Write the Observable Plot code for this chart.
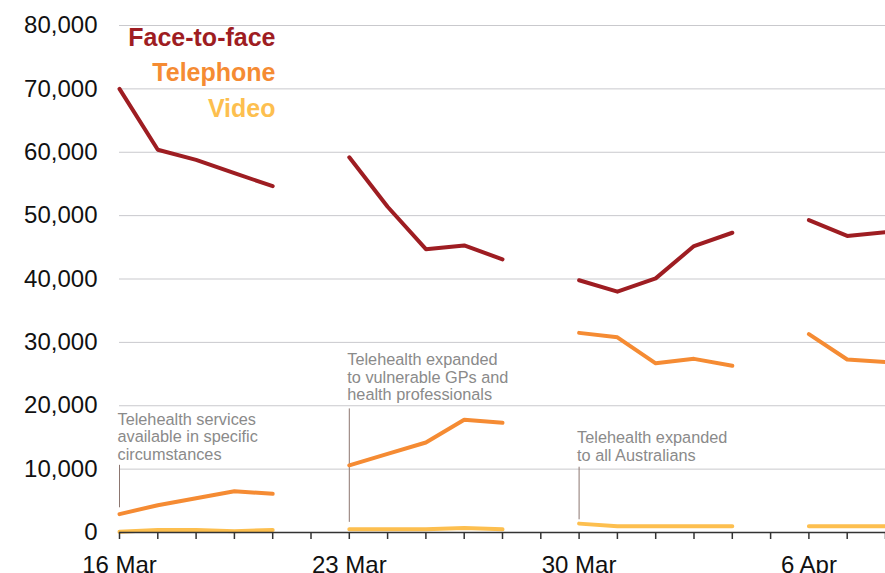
<!DOCTYPE html>
<html>
<head>
<meta charset="utf-8">
<script src="https://cdn.jsdelivr.net/npm/d3@7"></script>
<script src="https://cdn.jsdelivr.net/npm/@observablehq/plot@0.6"></script>
<style>
  html, body { margin: 0; padding: 0; background: #fff; overflow: hidden; }
</style>
</head>
<body>
<div id="chart"></div>
<script>
// Day slots (weekends collapsed into a single empty slot)
const slots = ["16 Mar","17 Mar","18 Mar","19 Mar","20 Mar","21–22 Mar",
  "23 Mar","24 Mar","25 Mar","26 Mar","27 Mar","28–29 Mar",
  "30 Mar","31 Mar","1 Apr","2 Apr","3 Apr","4–5 Apr",
  "6 Apr","7 Apr","8 Apr"];
const tickLabels = ["16 Mar","23 Mar","30 Mar","6 Apr"];
const yTicks = [0,10000,20000,30000,40000,50000,60000,70000,80000];

const seriesNames = ["Face-to-face","Telephone","Video"];
const seriesColors = ["#9e1d22","#f58b33","#fdbf4f"];

const faceToFace = [70000,60400,58800,56700,54650,null,59200,51400,44700,45300,43100,null,39800,38000,40100,45200,47300,null,49300,46800,47400];
const telephone  = [2900,4300,5400,6500,6100,null,10600,12400,14200,17800,17300,null,31500,30800,26700,27400,26300,null,31300,27300,26900];
const video      = [100,400,400,200,400,null,500,500,500,700,500,null,1400,1000,1000,1000,1000,null,1000,1000,1000];

const noteDates = ["16 Mar","23 Mar","30 Mar"];
const noteTexts = [
  "Telehealth services\navailable in specific\ncircumstances",
  "Telehealth expanded\nto vulnerable GPs and\nhealth professionals",
  "Telehealth expanded\nto all Australians"
];
const noteTextTop = [19000, 28450, 16150];
const noteRuleTop = [10600, 19500, 10300];
const noteRuleBottom = [3900, 1600, 2000];

const seriesValues = [faceToFace, telephone, video];
const rows = [];
seriesNames.forEach((s, k) => {
  slots.forEach((d, i) => rows.push({series: s, date: d, value: seriesValues[k][i]}));
});
const notes = noteDates.map((d, i) => ({date: d, text: noteTexts[i], top: noteTextTop[i], r1: noteRuleTop[i], r2: noteRuleBottom[i]}));
const legend = seriesNames.map((s, i) => ({name: s, color: seriesColors[i], i}));

const chart = Plot.plot({
  width: 885,
  height: 573,
  marginLeft: 119,
  marginRight: 0,
  marginTop: 25,
  marginBottom: 41,
  style: {fontFamily: "'Liberation Sans', Arial, sans-serif", background: "#fff", overflow: "visible"},
  x: {type: "point", domain: slots, padding: 0, round: false},
  y: {domain: [0, 80000]},
  color: {domain: seriesNames, range: seriesColors},
  marks: [
    Plot.gridY(yTicks.filter(d => d > 0), {stroke: "#c9c9cd", strokeOpacity: 1, strokeWidth: 1}),
    Plot.axisY(yTicks, {tickSize: 0, tickPadding: 22, fontSize: 24, fill: "#111", tickFormat: d3.format(","), label: null}),
    Plot.ruleX(notes, {x: "date", y1: "r1", y2: "r2", stroke: "#8c7670", strokeWidth: 1}),
    Plot.text(notes, {x: "date", y: "top", text: "text", textAnchor: "start", lineAnchor: "top", dx: -2,
      fontSize: 16.3, lineHeight: 1.09, fill: "#8a8a8a"}),
    Plot.line(rows, {x: "date", y: "value", z: "series", stroke: "series", strokeWidth: 4, strokeLinejoin: "round"}),
    Plot.ruleY([0], {stroke: "#333", strokeWidth: 1.5}),
    Plot.axisX(slots, {tickSize: 7, tickPadding: 16, stroke: "#333", strokeWidth: 1.5, fontSize: 24, fill: "#111",
      tickFormat: d => tickLabels.includes(d) ? d : "", label: null}),
    ...legend.map(l => Plot.text([l.name], {frameAnchor: "top-left", dx: 156, dy: 20 + l.i * 35.7,
      text: d => d, textAnchor: "end", lineAnchor: "bottom", fontSize: 25, fontWeight: "bold", fill: l.color}))
  ]
});
document.getElementById("chart").appendChild(chart);
</script>
</body>
</html>
